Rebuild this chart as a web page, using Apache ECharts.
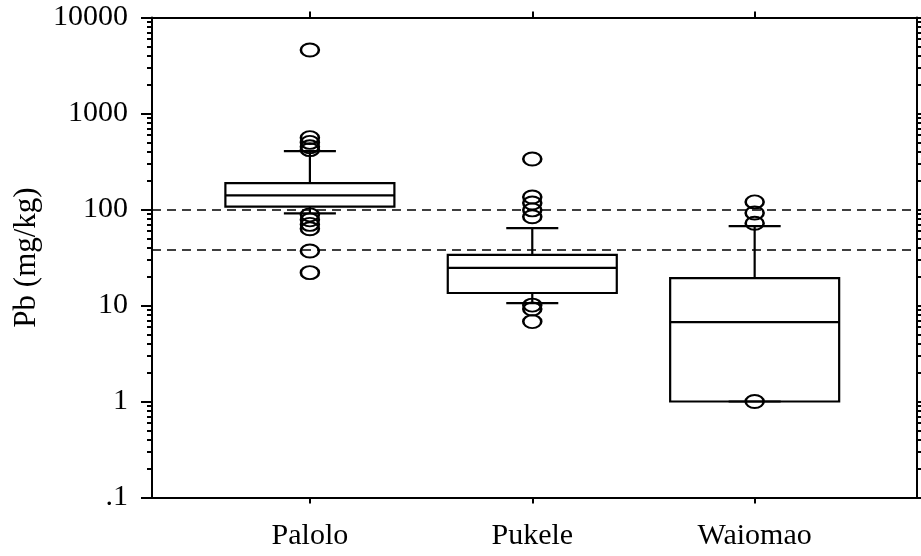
<!DOCTYPE html>
<html>
<head>
<meta charset="utf-8">
<script src="https://cdn.jsdelivr.net/npm/echarts@6/dist/echarts.min.js"></script>
<style>
html,body{margin:0;padding:0;background:#fff;}
#chart{width:921px;height:556px;}
</style>
</head>
<body>
<div id="chart"></div>
<script>
// ---- data ----
const categories = ['Palolo', 'Pukele', 'Waiomao'];
// [lower whisker, Q1, median, Q3, upper whisker]
const palolo_box  = [91, 107, 140, 188, 406];
const pukele_box  = [10.6, 13.5, 24.6, 33.6, 64];
const waiomao_box = [1, 1, 6.7, 19.3, 67];
const palolo_out  = [4580, 560, 500, 450, 420, 88, 78, 70, 63, 37, 22];
const pukele_out  = [336, 135, 117, 99, 84, 10.1, 9.2, 6.8];
const waiomao_out = [120, 92, 72, 1];
const guideLines  = [100, 38];
const yMajorTicks = [0.1, 1, 10, 100, 1000, 10000];
const yTickLabels = ['.1', '1', '10', '100', '1000', '10000'];

const boxes = [palolo_box, pukele_box, waiomao_box];
const outs = [palolo_out, pukele_out, waiomao_out];

const yMinorTicks = [];
for (let k = -1; k <= 3; k++) for (let m = 2; m <= 9; m++) yMinorTicks.push(+(m * Math.pow(10, k)).toPrecision(3));

const xMin = 0.29, xMax = 3.73;
const catPos = categories.map((c, i) => i + 1);

const boxData = boxes.map((b, i) => [catPos[i]].concat(b));
const outData = [];
outs.forEach((arr, i) => arr.forEach(v => outData.push([catPos[i], v])));

const FONT = 'Liberation Serif';
const BLACK = '#000';

const chart = echarts.init(document.getElementById('chart'));

function renderBox(params, api) {
  const x = api.value(0);
  const lo = api.value(1), q1 = api.value(2), med = api.value(3), q3 = api.value(4), hi = api.value(5);
  const hw = 0.38, cw = 0.117;
  const pL = api.coord([x - hw, q3]);
  const pR = api.coord([x + hw, q1]);
  const pMedL = api.coord([x - hw, med]);
  const pMedR = api.coord([x + hw, med]);
  const pHi = api.coord([x, hi]);
  const pQ3 = api.coord([x, q3]);
  const pLo = api.coord([x, lo]);
  const pQ1 = api.coord([x, q1]);
  const cL = api.coord([x - cw, hi])[0];
  const cR = api.coord([x + cw, hi])[0];
  const st = {stroke: BLACK, lineWidth: 2.2, fill: null};
  return {
    type: 'group',
    children: [
      {type: 'line', shape: {x1: pHi[0], y1: pHi[1], x2: pQ3[0], y2: pQ3[1]}, style: st},
      {type: 'line', shape: {x1: pLo[0], y1: pLo[1], x2: pQ1[0], y2: pQ1[1]}, style: st},
      {type: 'line', shape: {x1: cL, y1: pHi[1], x2: cR, y2: pHi[1]}, style: st},
      {type: 'line', shape: {x1: cL, y1: pLo[1], x2: cR, y2: pLo[1]}, style: st},
      {type: 'rect', shape: {x: pL[0], y: pL[1], width: pR[0] - pL[0], height: pR[1] - pL[1]}, style: st},
      {type: 'line', shape: {x1: pMedL[0], y1: pMedL[1], x2: pMedR[0], y2: pMedR[1]}, style: st}
    ]
  };
}

const yBase = {
  type: 'log', logBase: 10, min: 0.1, max: 10000,
  splitLine: {show: false}
};

const option = {
  backgroundColor: '#fff',
  animation: false,
  grid: {left: 152, right: 4, top: 17.5, bottom: 58.5, containLabel: false},
  xAxis: [
    {
      type: 'value', min: xMin, max: xMax, position: 'bottom',
      axisLine: {show: true, onZero: false, lineStyle: {color: BLACK, width: 2}},
      axisTick: {show: true, inside: false, length: 6, lineStyle: {color: BLACK, width: 2}, customValues: catPos},
      axisLabel: {show: true, customValues: catPos, margin: 24, color: BLACK, fontFamily: FONT, fontSize: 30,
        formatter: v => categories[Math.round(v) - 1] || ''},
      splitLine: {show: false}
    },
    {
      type: 'value', min: xMin, max: xMax, position: 'top',
      axisLine: {show: true, onZero: false, lineStyle: {color: BLACK, width: 2}},
      axisTick: {show: true, inside: false, length: 6, lineStyle: {color: BLACK, width: 2}, customValues: catPos},
      axisLabel: {show: false},
      splitLine: {show: false}
    }
  ],
  yAxis: [
    Object.assign({}, yBase, {
      position: 'left',
      name: 'Pb (mg/kg)', nameLocation: 'middle', nameRotate: 90, nameGap: 110,
      nameTextStyle: {color: BLACK, fontFamily: FONT, fontSize: 31},
      axisLine: {show: true, lineStyle: {color: BLACK, width: 2}},
      axisTick: {show: true, inside: false, length: 11, lineStyle: {color: BLACK, width: 2}, customValues: yMajorTicks},
      axisLabel: {show: true, customValues: yMajorTicks, margin: 24, color: BLACK, fontFamily: FONT, fontSize: 30,
        formatter: v => {
          const idx = yMajorTicks.findIndex(t => Math.abs(Math.log10(t) - Math.log10(v)) < 1e-6);
          return idx >= 0 ? yTickLabels[idx] : '';
        }}
    }),
    Object.assign({}, yBase, {
      position: 'left',
      axisLine: {show: false},
      axisTick: {show: true, inside: false, length: 5, lineStyle: {color: BLACK, width: 2}, customValues: yMinorTicks},
      axisLabel: {show: false}
    }),
    Object.assign({}, yBase, {
      position: 'right',
      axisLine: {show: true, lineStyle: {color: BLACK, width: 2}},
      axisTick: {show: true, inside: false, length: 5, lineStyle: {color: BLACK, width: 2}, customValues: yMajorTicks},
      axisLabel: {show: false}
    }),
    Object.assign({}, yBase, {
      position: 'right',
      axisLine: {show: false},
      axisTick: {show: true, inside: false, length: 4, lineStyle: {color: BLACK, width: 2}, customValues: yMinorTicks},
      axisLabel: {show: false}
    })
  ],
  series: [
    {
      type: 'custom', xAxisIndex: 0, yAxisIndex: 0,
      renderItem: renderBox,
      encode: {x: 0, y: [1, 2, 3, 4, 5]},
      data: boxData,
      silent: true, z: 3
    },
    {
      type: 'scatter', xAxisIndex: 0, yAxisIndex: 0,
      data: outData,
      symbol: 'circle', symbolSize: [18, 13],
      itemStyle: {color: 'rgba(0,0,0,0)', borderColor: BLACK, borderWidth: 2.2, opacity: 1},
      silent: true, z: 4,
      markLine: {
        silent: true, symbol: ['none', 'none'],
        label: {show: false},
        lineStyle: {color: BLACK, width: 1.6, type: [9, 6]},
        data: guideLines.map(v => ({yAxis: v}))
      }
    }
  ]
};
chart.setOption(option);
</script>
</body>
</html>
